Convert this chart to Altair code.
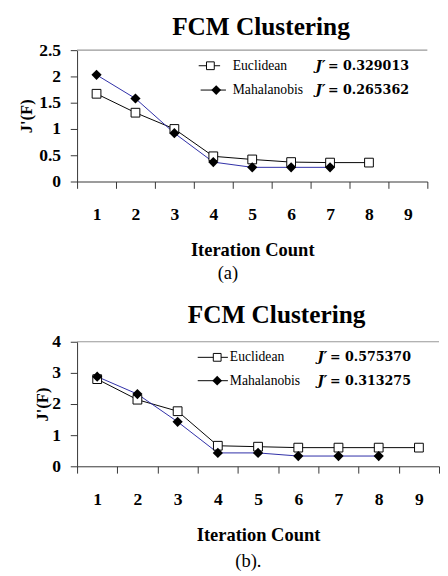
import altair as alt
import pandas as pd

iterations = ["1", "2", "3", "4", "5", "6", "7", "8", "9"]

a_euclid = [1.67, 1.31, 1.00, 0.48, 0.42, 0.37, 0.36, 0.36]
a_mahal = [2.03, 1.58, 0.92, 0.37, 0.27, 0.27, 0.27]
b_euclid = [2.80, 2.14, 1.77, 0.66, 0.63, 0.60, 0.60, 0.60, 0.60]
b_mahal = [2.88, 2.32, 1.43, 0.43, 0.43, 0.33, 0.33, 0.33]

series_names = ["Euclidean", "Mahalanobis"]
a_jvals = ["= 0.329013", "= 0.265362"]
b_jvals = ["= 0.575370", "= 0.313275"]
a_yticks = [0, 0.5, 1, 1.5, 2, 2.5]
b_yticks = [0, 1, 2, 3, 4]

SERIF = "Liberation Serif"
MATH = "DejaVu Serif"
BLUE = "#2b2ba6"


def frame(vals, name):
    return pd.DataFrame({"iter": iterations[:len(vals)], "value": vals, "series": name})


def panel(euc, mah, yticks, jvals, width, height, caption, cap_x, cap_y,
          leg, ytp, xtp, title_dx, title_offset):
    euc_df = frame(euc, series_names[0])
    mah_df = frame(mah, series_names[1])
    x = alt.X("iter:O",
              scale=alt.Scale(type="band", domain=iterations, paddingInner=0, paddingOuter=0),
              axis=alt.Axis(title="Iteration Count", labelAngle=0, tickBand="extent",
                            labelFont=SERIF, labelFontSize=18, labelFontWeight="bold",
                            labelColor="black", labelPadding=18.5, tickSize=7,
                            titleFont=SERIF, titleFontSize=19, titleFontWeight="bold",
                            titleColor="black", titlePadding=xtp,
                            domainColor="#333", tickColor="#333"))
    y = alt.Y("value:Q",
              scale=alt.Scale(domain=[0, yticks[-1]], nice=False),
              axis=alt.Axis(title="J'(F)", values=yticks, format="~g", grid=False,
                            labelOverlap=False,
                            labelFont=SERIF, labelFontSize=18, labelFontWeight="bold",
                            labelColor="black", labelPadding=10, tickSize=7,
                            titleFont=SERIF, titleFontSize=17, titleFontWeight="bold",
                            titleColor="black", titlePadding=ytp,
                            domainColor="#333", tickColor="#333"))

    line_e = alt.Chart(euc_df).mark_line(color="black", strokeWidth=1).encode(x=x, y=y)
    top = alt.Chart(pd.DataFrame({"value": [yticks[-1]]})).mark_rule(
        color="#999", strokeWidth=1.2).encode(y=y)
    line_m = alt.Chart(mah_df).mark_line(color=BLUE, strokeWidth=1).encode(x=x, y=y)
    pts_e = alt.Chart(euc_df).mark_point(shape="square", filled=True, fill="white",
                                         stroke="black", strokeWidth=1, size=81,
                                         opacity=1).encode(x=x, y=y)
    pts_m = alt.Chart(mah_df).mark_point(shape="diamond", filled=True, color="black",
                                         size=110, opacity=1).encode(x=x, y=y)

    layers = [line_e, top, line_m, pts_e, pts_m]

    rules, markers, tx, jx, rows = leg
    for i, name in enumerate(series_names):
        yy = rows[i]
        one = pd.DataFrame({"label": [name], "j": ["J\u2032"], "val": [jvals[i]]})
        base = alt.Chart(one)
        layers.append(base.mark_rule(color="black", strokeWidth=1).encode(
            x=alt.value(rules[i][0]), x2=alt.value(rules[i][1]), y=alt.value(yy)))
        if i == 0:
            layers.append(base.mark_point(shape="square", filled=True, fill="white",
                                          stroke="black", strokeWidth=1, size=64,
                                          opacity=1).encode(
                x=alt.value(markers[i]), y=alt.value(yy)))
        else:
            layers.append(base.mark_point(shape="diamond", filled=True, color="black",
                                          size=100, opacity=1).encode(
                x=alt.value(markers[i]), y=alt.value(yy)))
        layers.append(base.mark_text(font=SERIF, fontSize=14, align="left",
                                     baseline="middle", color="black").encode(
            text="label:N", x=alt.value(tx), y=alt.value(yy)))
        layers.append(base.mark_text(font=MATH, fontSize=14, fontWeight="bold",
                                     fontStyle="italic", align="left",
                                     baseline="middle", color="black").encode(
            text="j:N", x=alt.value(jx), y=alt.value(yy)))
        layers.append(base.mark_text(font=MATH, fontSize=13, fontWeight="bold",
                                     align="left", baseline="middle",
                                     color="black").encode(
            text="val:N", x=alt.value(jx + 13), y=alt.value(yy)))

    cap = alt.Chart(pd.DataFrame({"c": [caption]})).mark_text(
        font=SERIF, fontSize=19, align="center", baseline="middle",
        color="black").encode(text="c:N", x=alt.value(cap_x), y=alt.value(cap_y))
    layers.append(cap)

    return alt.layer(*layers).properties(
        width=width, height=height,
        title=alt.TitleParams("FCM Clustering", font=SERIF, fontSize=26,
                              fontWeight="bold", color="black", offset=title_offset,
                              anchor="middle", dx=title_dx))


pa = panel(a_euclid, a_mahal, a_yticks, a_jvals, 360, 135, "(a)", 155, 229,
           ([(125, 147), (127, 153)], [137, 143], 160, 245, [16, 41]), 3.5, 18, 9, 2)
pb = panel(b_euclid, b_mahal, b_yticks, b_jvals, 372, 128, "(b).", 176, 225,
           ([(124, 155), (124, 155)], [144, 144], 157, 247, [16, 40]), 0, 18, 19, 5.5)

chart = alt.concat(pa, pb, columns=1, spacing=19.7, align="none").properties(
    padding={"left": 10, "top": -1.5, "right": 0, "bottom": -6},
    background="white",
).configure_view(stroke=None)

chart.save("out.html", embed_options={"renderer": "svg", "actions": False})
